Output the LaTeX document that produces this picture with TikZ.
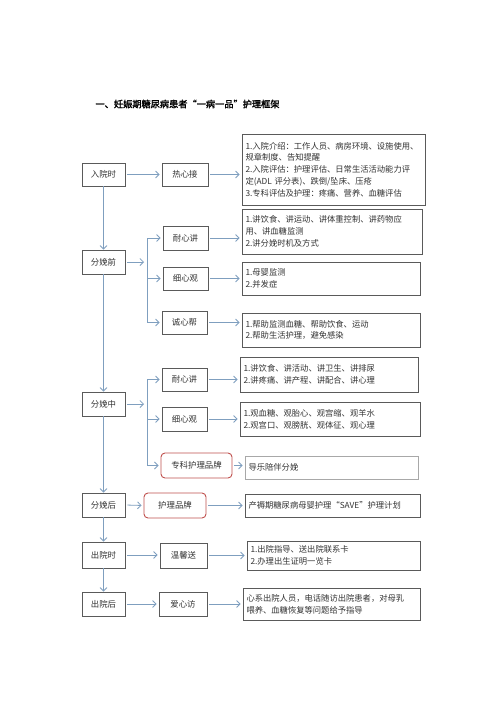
\documentclass[tikz,border=0pt]{standalone}
\usepackage{fontspec}
\setmainfont{Noto Sans CJK SC}
\newfontfamily\titlefont[FakeBold=2]{Noto Sans CJK SC}
\usetikzlibrary{arrows.meta}
\definecolor{arrc}{HTML}{7F9FBF}
\definecolor{bdr}{HTML}{5A5A5A}
\definecolor{redb}{HTML}{C0504D}
\definecolor{lbdr}{HTML}{A8A8A8}
\definecolor{txt}{HTML}{333333}
\begin{document}
\begin{tikzpicture}[x=1pt,y=-1pt,
  lbox/.style={draw=bdr, line width=0.8pt, inner sep=0pt, text=txt,
    font=\fontsize{8.4}{10}\selectfont},
  rbox/.style={draw=redb, line width=0.9pt, rounded corners=4pt, inner sep=0pt, text=txt,
    font=\fontsize{8.4}{10}\selectfont},
  tbox/.style={draw=bdr, line width=0.8pt, inner xsep=3.5pt, inner ysep=0pt, align=left, text=txt,
    font=\fontsize{8.3}{11.7}\selectfont},
  arr/.style={draw=arrc, line width=0.8pt, -{Straight Barb[length=3.5pt,width=7pt]}},
  ln/.style={draw=arrc, line width=0.8pt}
]
\useasboundingbox[fill=white] (0,0) rectangle (496,702);

\node[anchor=west, text=black, font=\titlefont\fontsize{9.2}{11}\selectfont] (title) at (92,104) {一、妊娠期糖尿病患者“一病一品”护理框架};

% left column
\node[lbox, minimum width=43pt, minimum height=23pt] (a1) at (103.5,174.5) {入院时};
\node[lbox, minimum width=43pt, minimum height=24pt] (a2) at (103.5,262) {分娩前};
\node[lbox, minimum width=43pt, minimum height=24pt] (a3) at (103.5,404) {分娩中};
\node[lbox, minimum width=43pt, minimum height=24pt] (a4) at (103.5,505) {分娩后};
\node[lbox, minimum width=43pt, minimum height=26pt] (a5) at (103.5,555) {出院时};
\node[lbox, minimum width=43pt, minimum height=24pt] (a6) at (103.5,604) {出院后};

% middle column
\node[lbox, minimum width=46pt, minimum height=23pt] (b1) at (185,174.5) {热心接};
\node[lbox, minimum width=45pt, minimum height=24pt] (b2) at (185.5,238) {耐心讲};
\node[lbox, minimum width=45pt, minimum height=23pt] (b3) at (185.5,278.5) {细心观};
\node[lbox, minimum width=45pt, minimum height=23pt] (b4) at (184.5,322.5) {诚心帮};
\node[lbox, minimum width=45pt, minimum height=23pt] (b5) at (184.5,379.5) {耐心讲};
\node[lbox, minimum width=45pt, minimum height=24pt] (b6) at (184.5,419) {细心观};
\node[rbox, minimum width=71pt, minimum height=25pt] (b7) at (196.5,465.5) {专科护理品牌};
\node[rbox, minimum width=62pt, minimum height=25pt] (b8) at (175,505.5) {护理品牌};
\node[lbox, minimum width=47pt, minimum height=25pt] (b9) at (183.5,555.5) {温馨送};
\node[lbox, minimum width=48pt, minimum height=24pt] (b10) at (183,604) {爱心访};

% right column
\node[tbox, text width=176pt, minimum height=71pt] (c1) at (333.5,169.5) {1.入院介绍：工作人员、病房环境、设施使用、\\规章制度、告知提醒\\2.入院评估：护理评估、日常生活活动能力评\\定(ADL 评分表)、跌倒/坠床、压疮\\3.专科评估及护理：疼痛、营养、血糖评估};
\node[tbox, text width=173pt, minimum height=45pt] (c2) at (332,231.5) {1.讲饮食、讲运动、讲体重控制、讲药物应\\用、讲血糖监测\\2.讲分娩时机及方式};
\node[tbox, text width=171pt, minimum height=33pt] (c3) at (331,278.5) {1.母婴监测\\2.并发症};
\node[tbox, text width=171pt, minimum height=34pt] (c4) at (331,330) {1.帮助监测血糖、帮助饮食、运动\\2.帮助生活护理，避免感染};
\node[tbox, text width=171pt, minimum height=35pt] (c5) at (329,374.5) {1.讲饮食、讲活动、讲卫生、讲排尿\\2.讲疼痛、讲产程、讲配合、讲心理};
\node[tbox, text width=173pt, minimum height=34pt] (c6) at (330,419) {1.观血糖、观胎心、观宫缩、观羊水\\2.观宫口、观膀胱、观体征、观心理};
\node[tbox, draw=lbdr, text width=166pt, minimum height=23pt] (c7) at (331.5,467.5) {导乐陪伴分娩};
\node[tbox, text width=168pt, minimum height=23pt] (c8) at (332.5,505.5) {产褥期糖尿病母婴护理“SAVE”护理计划};
\node[tbox, text width=166pt, minimum height=29pt] (c9) at (333.5,555.5) {1.出院指导、送出院联系卡\\2.办理出生证明一览卡};
\node[tbox, text width=170pt, minimum height=32pt] (c10) at (331.5,604) {心系出院人员，电话随访出院患者，对母乳\\喂养、血糖恢复等问题给予指导};

% vertical flow on the left
\draw[arr] (a1.south) -- (a2.north);
\draw[arr] (a2.south) -- (a3.north);
\draw[arr] (a3.south) -- (a4.north);
\draw[arr] (a4.south) -- (a5.north);
\draw[arr] (a5.south) -- (a6.north);

% single horizontal arrows
\draw[arr, shorten <=2pt, shorten >=2pt] (a1.east) -- (b1.west);
\draw[arr, shorten <=2pt, shorten >=2pt] (a4.east) -- (b8.west);
\draw[arr, shorten <=2pt, shorten >=2pt] (a5.east) -- (a5.east -| b9.west);
\draw[arr, shorten <=2pt, shorten >=2pt] (a6.east) -- (b10.west);

% branches
\coordinate (j1) at (147,262);
\coordinate (j2) at (147,404);
\draw[arr, shorten <=2pt, shorten >=3pt] (a2.east) -- (j1);
\draw[arr, shorten <=2pt, shorten >=3pt] (a3.east) -- (j2);
\draw[ln] (j1 |- b2) -- (j1 |- b4);
\draw[ln] (j2 |- b5) -- (j2 |- b7);
\foreach \b in {b2,b3,b4}{\draw[arr, shorten >=2pt] (j1 |- \b) -- (\b.west);}
\foreach \b in {b5,b6,b7}{\draw[arr, shorten >=2pt] (j2 |- \b) -- (\b.west);}

% middle to right
\foreach \b/\c in {b1/c1,b2/c2,b3/c3,b4/c4,b5/c5,b6/c6,b7/c7,b8/c8,b9/c9,b10/c10}{
  \draw[arr, shorten <=2pt, shorten >=2pt] (\b.east) -- (\b.east -| \c.west);}
\end{tikzpicture}
\end{document}
